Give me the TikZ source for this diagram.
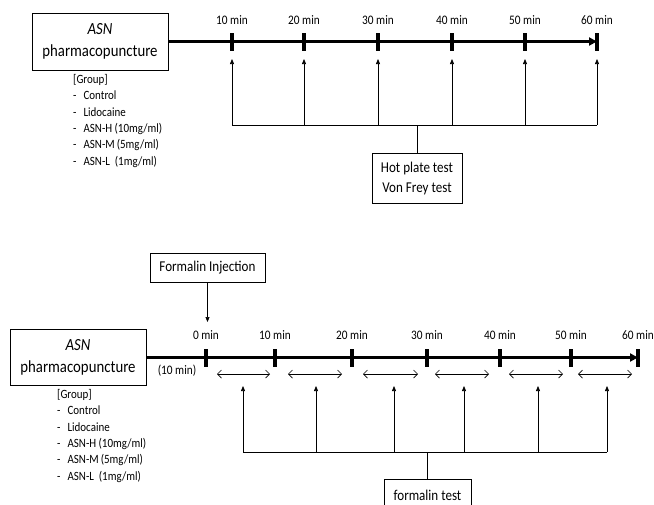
\documentclass[tikz,border=0pt]{standalone}
\usepackage{fontspec}
\setmainfont{Carlito}[FakeStretch=0.87]
\usetikzlibrary{arrows.meta, positioning}

\begin{document}
\begin{tikzpicture}[x=1pt,y=-1pt,
		box/.style={draw, line width=0.8pt, align=center, inner sep=0pt},
		timeline/.style={line width=3pt, -{Triangle[length=8pt,width=8pt]}},
		tick/.style={line width=4pt},
		stamp/.style={font=\fontsize{13}{15}\selectfont},
		uparrow/.style={line width=0.7pt, -{Triangle[length=5pt,width=4pt]}},
		span/.style={line width=0.7pt, {Straight Barb[length=4pt,width=8pt]}-{Straight Barb[length=4pt,width=8pt]}},
		grouplist/.style={anchor=north west, inner sep=0pt, font=\fontsize{12.6}{16.3}\selectfont}]
	\useasboundingbox (0,0) rectangle (654,504);
	
	% UPPER SCHEDULE
	\node[box, minimum width=136pt, minimum height=57pt, font=\fontsize{17}{22}\selectfont] (asnA) at (100,41.5) {\textit{ASN}\\pharmacopuncture};
	\coordinate (endA) at (597,41.5);
	\draw[timeline] (asnA.east) -- (endA);
	
	% ticks, time stamps and test arrows
	\foreach \x/\t in {232/10, 304/20, 378/30, 452/40, 525/50, 597/60} {
		\draw[tick] (\x,33) -- (\x,51);
		\node[stamp] (stampA\t) at (\x,20) {\t\ min};
		\coordinate (upA\t) at (\x,59);
		\coordinate (barA\t) at (\x,125);
		\draw[uparrow] (barA\t) -- (upA\t);
	}
	\draw[line width=0.7pt] (barA10) -- (barA60);
	
	\node[box, minimum width=90pt, minimum height=50pt, font=\fontsize{15}{20}\selectfont] (testA) at (417,178) {Hot plate test\\Von Frey test};
	\draw[line width=0.7pt] (testA.north) -- (testA.north |- barA10);
	
	% groups
	\node[grouplist] (groupA) at (73,72) {\begin{tabular}{@{}l@{\hspace{7pt}}l@{}}
			\multicolumn{2}{@{}l}{[Group]}\\
			- & Control\\
			- & Lidocaine\\
			- & ASN-H (10mg/ml)\\
			- & ASN-M\,(5mg/ml)\\
			- & ASN-L\ \ (1mg/ml)
	\end{tabular}};
	
	% LOWER SCHEDULE
	\node[box, minimum width=136pt, minimum height=56pt, font=\fontsize{17}{22}\selectfont] (asnB) at (78,357.5) {\textit{ASN}\\pharmacopuncture};
	\coordinate (endB) at (638,357.5);
	\draw[timeline] (asnB.east) -- (endB);
	\node[stamp] (waitB) at (177,371) {(10 min)};
	
	\foreach \x/\t in {206/0, 275/10, 352/20, 427/30, 500/40, 571/50, 638/60} {
		\draw[tick] (\x,349) -- (\x,367);
		\node[stamp] (stampB\t) at (\x,335) {\t\ min};
	}
	
	% formalin injection
	\node[box, minimum width=115pt, minimum height=29pt, font=\fontsize{15}{18}\selectfont] (injectB) at (207.5,267.5) {Formalin Injection};
	\coordinate (hitB) at (207.5,322);
	\draw[uparrow] (injectB.south) -- (hitB);
	
	% observation intervals
	\foreach \a/\b in {217/270, 288/342, 363/418, 435/489, 509/563, 578/632}
		\draw[span] (\a,374) -- (\b,374);
	
	\foreach \x [count=\i] in {243, 316, 394, 464, 538, 607} {
		\coordinate (upB\i) at (\x,386);
		\coordinate (barB\i) at (\x,452);
		\draw[uparrow] (barB\i) -- (upB\i);
	}
	\draw[line width=0.7pt] (barB1) -- (barB6);
	
	\node[box, minimum width=87pt, minimum height=31pt, anchor=north, font=\fontsize{15}{18}\selectfont] (testB) at (427.5,479) {formalin test};
	\draw[line width=0.7pt] (testB.north) -- (testB.north |- barB1);
	
	\node[grouplist] (groupB) at (57,387) {\begin{tabular}{@{}l@{\hspace{7pt}}l@{}}
			\multicolumn{2}{@{}l}{[Group]}\\
			- & Control\\
			- & Lidocaine\\
			- & ASN-H (10mg/ml)\\
			- & ASN-M\,(5mg/ml)\\
			- & ASN-L\ \ (1mg/ml)
	\end{tabular}};
\end{tikzpicture}
\end{document}
